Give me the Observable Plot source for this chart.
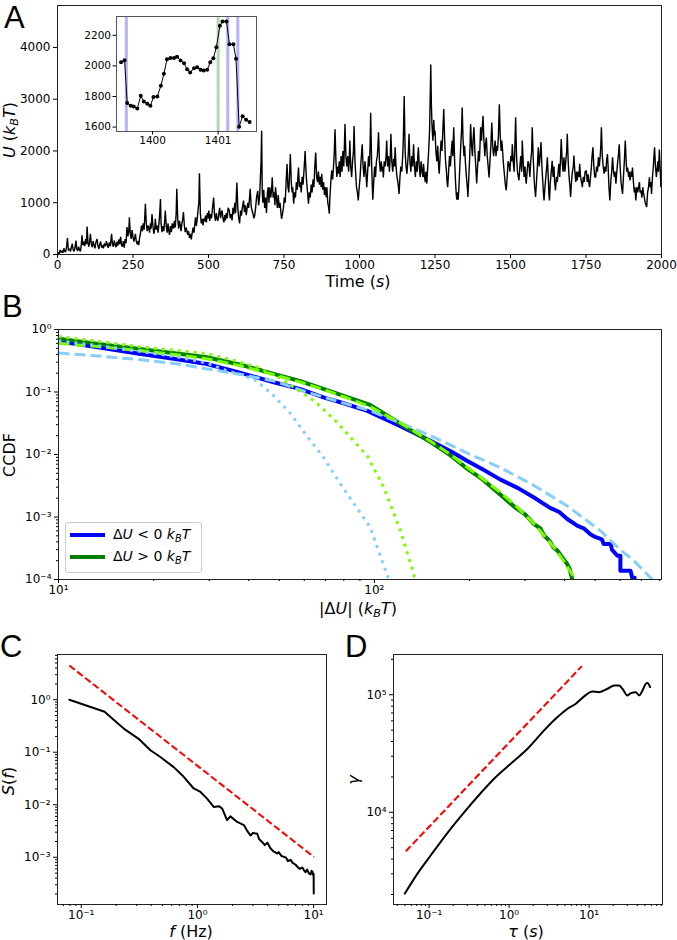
<!DOCTYPE html>
<html><head><meta charset="utf-8">
<script src="https://cdn.jsdelivr.net/npm/d3@7"></script>
<script src="https://cdn.jsdelivr.net/npm/@observablehq/plot@0.6"></script>
<style>
body{margin:0;background:#fff;}
#fig{position:relative;width:677px;height:940px;overflow:hidden;background:#fff;font-family:"DejaVu Sans",sans-serif;}
#fig svg{position:absolute;}
.lab{position:absolute;white-space:nowrap;color:#000;font-family:"DejaVu Sans";font-size:16px;line-height:1;}
.sub{font-size:70%;position:relative;top:0.3em;}
.letter{position:absolute;font-family:"Liberation Sans",Arial,sans-serif;font-size:31px;line-height:1;color:#000;}
.legend{position:absolute;border:1px solid #ccc;border-radius:3px;background:rgba(255,255,255,0.85);box-sizing:border-box;}
.legrow{position:absolute;left:0;font-family:"DejaVu Sans";font-size:14px;line-height:1;white-space:nowrap;}
</style></head><body><div id="fig"></div><script>
// ---------- DATA ----------
// Panel A: U(t) time series [t (s), U (kBT)]
const timeSeries = [[0,10],[3,40],[6,20],[9,90],[12,40],[15,70],[18,30],[21,120],[24,60],[27,50],[30,150],[33,320],[36,80],[40,110],[43,60],[46,140],[49,210],[52,90],[55,60],[58,130],[61,270],[64,100],[67,70],[70,150],[73,90],[76,60],[79,200],[81,370],[84,180],[87,250],[90,160],[93,300],[96,200],[98,540],[101,220],[104,150],[107,280],[109,400],[112,200],[115,140],[118,260],[121,180],[124,120],[127,230],[131,300],[134,160],[137,110],[140,200],[143,250],[146,130],[149,180],[152,120],[155,210],[159,160],[162,260],[165,180],[168,130],[171,230],[175,160],[179,400],[182,200],[185,150],[188,270],[191,190],[194,140],[197,250],[200,170],[203,290],[206,200],[209,340],[212,180],[215,150],[218,260],[221,130],[224,300],[227,220],[230,530],[233,350],[236,450],[238,720],[241,400],[244,300],[247,470],[250,340],[253,250],[256,330],[258,400],[261,250],[264,200],[267,260],[269,180],[272,330],[275,420],[278,560],[281,450],[284,600],[287,480],[291,980],[294,600],[297,450],[300,560],[302,530],[305,420],[308,600],[310,500],[313,780],[316,550],[319,400],[322,500],[324,690],[327,480],[330,560],[333,420],[336,600],[338,750],[341,1070],[343,600],[346,430],[349,550],[352,450],[355,650],[357,850],[360,550],[363,420],[366,600],[368,470],[371,380],[374,550],[377,430],[380,600],[384,500],[387,650],[390,520],[393,800],[395,1270],[398,700],[401,500],[404,650],[406,590],[409,450],[412,600],[415,700],[417,820],[420,560],[423,430],[426,520],[428,470],[431,380],[434,450],[437,320],[440,400],[443,290],[446,420],[449,520],[452,420],[455,600],[457,720],[460,550],[463,700],[466,900],[468,1000],[470,1570],[473,800],[476,600],[479,690],[482,560],[485,700],[488,640],[490,750],[493,620],[496,800],[499,700],[501,850],[504,650],[507,780],[510,700],[513,880],[517,1100],[520,760],[523,650],[526,800],[528,700],[531,650],[534,780],[537,900],[540,700],[543,820],[545,850],[548,700],[551,620],[554,760],[556,660],[559,800],[562,700],[565,900],[569,850],[572,700],[575,780],[578,660],[581,900],[584,780],[587,1000],[590,800],[592,1100],[594,1390],[597,900],[600,700],[603,600],[606,850],[609,750],[612,900],[616,1040],[619,820],[622,950],[625,760],[627,850],[630,1000],[633,900],[636,1100],[638,1270],[641,950],[644,850],[647,800],[650,700],[653,750],[656,900],[659,1100],[663,1230],[666,950],[669,1100],[672,1500],[674,1800],[676,2390],[678,1200],[680,1000],[683,1250],[686,900],[689,1100],[692,800],[695,1200],[698,1300],[700,1000],[703,1300],[706,1100],[709,1250],[711,1490],[714,1100],[717,1200],[720,950],[722,1300],[725,1100],[728,900],[731,1150],[734,900],[737,1000],[740,800],[742,690],[745,780],[748,900],[751,1100],[754,1000],[757,1400],[760,1750],[763,1300],[766,1200],[768,1500],[771,1940],[774,1400],[777,1200],[779,1300],[782,980],[785,1200],[788,1100],[791,1400],[794,1250],[796,1500],[798,1680],[801,1300],[804,1400],[807,1200],[810,1500],[813,1350],[816,1600],[818,1800],[820,2000],[822,1700],[825,1400],[828,1200],[831,980],[834,1200],[837,1100],[840,1350],[843,1200],[846,1450],[849,1300],[852,1700],[855,1970],[858,1500],[861,1400],[864,1600],[867,1350],[870,1500],[873,1300],[875,1560],[878,1250],[881,1400],[884,1150],[887,1300],[890,1100],[892,1300],[895,1000],[898,900],[900,790],[902,1100],[905,1400],[908,1620],[911,1450],[914,1700],[916,1900],[919,2420],[922,1800],[925,1500],[928,1700],[930,1560],[933,1800],[936,1500],[939,1900],[942,1600],[945,2000],[948,1700],[950,2100],[952,2520],[955,1900],[958,1700],[961,1900],[964,1600],[966,1800],[968,2200],[971,1700],[974,1500],[977,1800],[980,2000],[982,2480],[985,1800],[988,1500],[990,1300],[993,1200],[996,1045],[999,1300],[1002,1500],[1005,1800],[1009,2130],[1012,1700],[1015,1500],[1018,1800],[1021,1600],[1024,1300],[1027,1600],[1030,1900],[1033,1700],[1035,2100],[1037,2740],[1040,1800],[1042,1400],[1044,1060],[1047,1400],[1050,1700],[1053,1500],[1056,1800],[1059,1900],[1061,2100],[1063,2360],[1066,1800],[1069,1600],[1072,1800],[1075,1600],[1077,1700],[1079,1490],[1082,1800],[1085,1700],[1088,1900],[1090,2200],[1093,1700],[1096,1900],[1099,1600],[1102,1900],[1104,2330],[1107,1800],[1110,1600],[1113,1850],[1116,1700],[1118,2070],[1121,1700],[1124,1500],[1127,1400],[1129,1300],[1131,1170],[1134,1500],[1137,1700],[1140,1600],[1143,1900],[1145,2200],[1148,3060],[1151,2000],[1154,1700],[1157,1560],[1160,1800],[1162,2000],[1164,2330],[1167,1800],[1170,1600],[1173,1900],[1176,1700],[1179,2130],[1182,1700],[1185,1500],[1188,1800],[1191,1600],[1193,1900],[1195,2070],[1198,1700],[1201,1500],[1204,1800],[1207,1600],[1210,1500],[1212,1750],[1215,1500],[1218,1400],[1220,1600],[1223,1370],[1226,1700],[1229,2000],[1232,2400],[1234,3000],[1236,3670],[1238,2900],[1240,2500],[1243,2200],[1246,2600],[1248,2300],[1250,2390],[1253,2000],[1256,1800],[1259,2100],[1262,1700],[1264,1560],[1267,1900],[1270,2200],[1273,2000],[1276,2400],[1279,2810],[1282,2200],[1285,1800],[1288,1600],[1290,1400],[1292,1300],[1295,1600],[1298,1900],[1301,1700],[1304,2000],[1307,2200],[1309,1900],[1312,2460],[1315,1800],[1318,1400],[1320,1200],[1322,1060],[1325,1200],[1327,1060],[1330,1400],[1333,1800],[1336,2200],[1338,2400],[1340,2840],[1343,2200],[1346,1900],[1348,2100],[1351,1750],[1354,1500],[1357,1300],[1359,1110],[1362,1500],[1365,1900],[1368,2520],[1371,2100],[1374,1900],[1376,2200],[1379,2460],[1382,2000],[1385,1700],[1388,1370],[1391,1700],[1394,2000],[1397,1800],[1399,2100],[1401,2460],[1404,2200],[1406,2400],[1409,2680],[1412,2200],[1415,1900],[1417,2100],[1420,2260],[1423,1900],[1426,1700],[1429,1490],[1432,1800],[1435,2100],[1438,2550],[1441,2100],[1444,1900],[1446,2000],[1449,2200],[1452,1900],[1455,2100],[1457,2000],[1460,2300],[1463,2900],[1466,2300],[1469,2000],[1471,2200],[1473,2070],[1476,1800],[1479,1600],[1482,1400],[1484,1300],[1486,1240],[1489,1500],[1492,1800],[1495,1750],[1498,1600],[1501,1900],[1504,1800],[1506,2130],[1509,1800],[1512,1600],[1514,2000],[1517,2650],[1520,1900],[1523,1600],[1526,1500],[1528,1430],[1531,1700],[1534,1900],[1537,1600],[1539,2200],[1542,1800],[1545,1500],[1548,1700],[1550,1500],[1552,1370],[1555,1600],[1558,1800],[1561,1750],[1564,1500],[1567,1800],[1570,2000],[1572,2460],[1575,1900],[1578,1500],[1580,1300],[1583,1110],[1586,1400],[1589,1700],[1592,2070],[1595,1700],[1598,1900],[1601,2170],[1604,1700],[1607,1400],[1609,1200],[1611,1045],[1614,1300],[1617,1500],[1620,1700],[1622,1880],[1625,1500],[1627,1200],[1629,1045],[1632,1400],[1635,1600],[1638,1810],[1641,1500],[1644,1700],[1646,1400],[1649,1240],[1652,1500],[1655,1400],[1658,1600],[1660,1750],[1663,1500],[1666,1900],[1668,2230],[1671,1800],[1674,1600],[1677,1880],[1680,1600],[1683,1800],[1686,2000],[1688,2330],[1691,1800],[1694,1500],[1697,1300],[1699,1110],[1702,1400],[1705,1600],[1708,1700],[1710,1910],[1713,1600],[1716,1400],[1719,1600],[1721,1430],[1724,1600],[1727,1500],[1729,1750],[1732,1500],[1735,1400],[1738,1300],[1741,1500],[1744,1400],[1747,1600],[1751,1620],[1754,1400],[1757,1550],[1760,1350],[1762,1300],[1765,1500],[1768,1700],[1770,1900],[1773,2070],[1776,1700],[1779,1500],[1782,1490],[1785,1700],[1788,1600],[1791,1880],[1794,1700],[1797,1900],[1799,2100],[1801,2460],[1804,1900],[1807,1700],[1810,1560],[1813,1700],[1816,1600],[1818,1800],[1821,1940],[1824,1600],[1826,1300],[1829,1045],[1832,1400],[1835,1600],[1838,1880],[1841,1600],[1844,1500],[1846,1600],[1849,1370],[1852,1600],[1855,1800],[1857,1900],[1860,2130],[1863,1700],[1866,1400],[1868,1300],[1871,1170],[1874,1500],[1877,1800],[1880,2200],[1883,1800],[1885,1600],[1888,1680],[1891,1500],[1893,1600],[1896,1430],[1899,1600],[1901,1500],[1904,1680],[1907,1400],[1910,1200],[1912,1300],[1915,1045],[1918,1300],[1921,1200],[1924,1300],[1927,1400],[1929,1200],[1932,1240],[1935,1100],[1938,1300],[1940,1200],[1943,1110],[1946,1000],[1949,950],[1951,920],[1954,1200],[1957,1300],[1960,1490],[1962,1300],[1965,1400],[1967,1170],[1970,1500],[1973,1700],[1975,1900],[1977,2070],[1980,1700],[1983,1500],[1985,1620],[1988,1800],[1990,1600],[1993,2030],[1996,1600],[1998,1300],[2000,1370]];
const timeTicks = [0,250,500,750,1000,1250,1500,1750,2000];
const uTicks = [0,1000,2000,3000,4000];

// Panel A inset
const insetPts = [[1399.52,2024],[1399.573,2037],[1399.613,1757],[1399.667,1739],[1399.713,1735],[1399.767,1722],[1399.82,1804],[1399.867,1767],[1399.92,1752],[1399.967,1739],[1400.013,1796],[1400.073,1800],[1400.127,1870],[1400.173,1948],[1400.22,2043],[1400.273,2052],[1400.327,2052],[1400.373,2059],[1400.427,2035],[1400.48,2017],[1400.527,1978],[1400.573,1957],[1400.633,1985],[1400.68,1991],[1400.733,1974],[1400.78,1970],[1400.833,1974],[1400.88,2024],[1400.927,2050],[1400.973,2122],[1401.027,2263],[1401.067,2291],[1401.127,2291],[1401.173,2141],[1401.233,2141],[1401.273,2046],[1401.32,1602],[1401.373,1670],[1401.427,1648],[1401.48,1633]];
const bandsBlue = [1399.6, 1401.147, 1401.3];
const bandsGreen = [1401.0];
const insetXTicks = [1400, 1401];
const insetYTicks = [1600, 1800, 2000, 2200];

// Panel B: CCDF of |dU|
const negData = [[10,0.65],[13,0.53],[18,0.41],[24,0.33],[29.5,0.28],[38,0.2],[48,0.143],[58,0.112],[69,0.082],[80,0.066],[95,0.05],[120,0.029],[150,0.0167],[175,0.0112],[197,0.0079],[220,0.0058],[250,0.004],[285,0.0029],[320,0.00205],[360,0.0014],[385,0.0012],[408,0.00093],[440,0.00072],[460,0.00066],[483,0.00053],[500,0.00048],[525,0.00044],[532,0.00037],[560,0.00037],[565,0.0003],[588,0.00024],[601,0.00024],[601,0.000138],[647,0.000138],[655,0.000107],[667,0.000107]];
const posData = [[10,0.71],[13,0.6],[18,0.49],[24,0.41],[29.5,0.36],[38,0.27],[48,0.195],[58,0.15],[69,0.112],[80,0.087],[97,0.062],[121,0.031],[154,0.0147],[175,0.0095],[197,0.0059],[220,0.004],[250,0.0023],[280,0.0014],[300,0.0011],[320,0.00077],[335,0.00066],[345,0.0005],[358,0.00042],[370,0.00032],[380,0.00029],[390,0.00024],[408,0.000176],[415,0.00015],[423,0.0001]];
const fitNegDashed = [[10,0.42],[13,0.38],[18,0.33],[24,0.28],[29.5,0.234],[38,0.19],[48,0.15],[61,0.1],[75,0.073],[97,0.05],[121,0.032],[154,0.019],[197,0.0105],[250,0.0062],[320,0.0032],[408,0.0015],[520,0.0006],[600,0.0003],[663,0.0002],[758,0.0001]];
const fitPosDashed = [[10,0.6],[13,0.54],[18,0.46],[24,0.39],[29.5,0.34],[38,0.26],[48,0.19],[58,0.145],[69,0.11],[80,0.084],[97,0.058],[121,0.032],[154,0.0152],[175,0.0098],[197,0.0062],[220,0.0041],[250,0.0025],[285,0.0014],[320,0.00078],[345,0.0005],[370,0.00033],[400,0.00019],[433,0.0001]];
const fitNegDotted = [[10,0.66],[13,0.56],[18,0.45],[24,0.36],[29.5,0.29],[34,0.22],[38,0.19],[42.5,0.15],[48,0.087],[54.3,0.045],[61,0.02],[69,0.009],[78,0.0034],[88,0.0014],[97,0.00068],[110,0.000115],[111,0.0001]];
const fitPosDotted = [[10,0.77],[13,0.66],[18,0.53],[24,0.46],[29.5,0.41],[36,0.32],[42.5,0.25],[50,0.17],[55.5,0.12],[65,0.07],[76,0.033],[86.5,0.016],[95,0.0095],[107,0.003],[121,0.0006],[134,0.00011],[136,0.0001]];
const bXTicks = [10, 100];
const bYTicks = [1e-4, 1e-3, 1e-2, 1e-1, 1];
const legendLabels = ['Δ<i>U</i> &lt; 0 <i>k</i><span class="sub"><i>B</i></span><i>T</i>', 'Δ<i>U</i> &gt; 0 <i>k</i><span class="sub"><i>B</i></span><i>T</i>'];
const legendColors = ["#0000ff", "#008000"];

// Panel C: power spectrum S(f)
const spectrum = [[0.079,1.0],[0.159,0.59],[0.19,0.417],[0.239,0.269],[0.312,0.18],[0.394,0.109],[0.48,0.081],[0.625,0.052],[0.762,0.034],[0.929,0.0204],[1.062,0.0175],[1.21,0.0131],[1.38,0.0091],[1.53,0.0094],[1.63,0.0085],[1.8,0.0051],[1.92,0.006],[2.2,0.0047],[2.51,0.0041],[2.7,0.0031],[2.86,0.0026],[3.0,0.0029],[3.27,0.0028],[3.4,0.0022],[3.61,0.00195],[3.8,0.0017],[4.0,0.0019],[4.26,0.00147],[4.5,0.0013],[4.86,0.00118],[5.0,0.00125],[5.3,0.00105],[5.55,0.00102],[5.8,0.00098],[6.0,0.00085],[6.34,0.00089],[6.6,0.00078],[7.0,0.00072],[7.24,0.00066],[7.6,0.0006],[8.0,0.00064],[8.24,0.00057],[8.5,0.00052],[8.8,0.00058],[9.12,0.00049],[9.4,0.00047],[9.6,0.00055],[9.77,0.00053],[9.9,0.00046],[10.0,0.00048],[10.02,0.000204]];
const spectrumFit = [[0.079,4.49],[10.07,0.00101]];
const cXTicks = [0.1, 1, 10];
const cYTicks = [1e-3, 1e-2, 1e-1, 1];

// Panel D: gamma(tau)
const gammaData = [[0.0497,2037],[0.0716,3013],[0.105,4315],[0.17,6700],[0.274,10000],[0.443,14600],[0.649,19330],[1.05,25930],[1.7,34770],[2.74,49730],[4.03,64560],[5.37,76060],[6.82,83900],[8.66,96800],[11.0,106600],[13.3,105200],[17.0,112500],[20.5,119900],[23.7,119900],[26.1,112500],[30.2,98700],[33.2,103200],[38.4,105200],[42.2,98700],[46.5,108800],[51.2,124000],[53.7,125600],[57.9,116000]];
const gammaFit = [[0.0512,4665],[8.11,175000]];
const dXTicks = [0.1, 1, 10];
const dYTicks = [1e4, 1e5];

// ---------- HELPERS ----------
const fig = document.getElementById("fig");
const supMap = {"-":"⁻","0":"⁰","1":"¹","2":"²","3":"³","4":"⁴","5":"⁵"};
const pow10 = v => "10" + String(Math.round(Math.log10(v))).split("").map(c => supMap[c]).join("");
function minors(lo, hi, dom) {
  const out = [];
  for (let e = lo; e < hi; e++) for (let m = 2; m <= 9; m++) {
    const v = +(m * Math.pow(10, e)).toPrecision(6);
    if (v >= dom[0] && v <= dom[1]) out.push(v);
  }
  return out;
}
function put(svg, left, top) { svg.style.left = left + "px"; svg.style.top = top + "px"; fig.appendChild(svg); }
function label(html, x, y, rot, cls = "lab") {
  const d = document.createElement("div");
  d.className = cls; d.innerHTML = html;
  d.style.left = x + "px"; d.style.top = y + "px";
  d.style.transform = "translate(-50%,-50%)" + (rot ? " rotate(-90deg)" : "");
  fig.appendChild(d);
}
function letter(t, x, y) {
  const d = document.createElement("div");
  d.className = "letter"; d.textContent = t;
  d.style.left = x + "px"; d.style.top = y + "px";
  fig.appendChild(d);
}
const style = {fontFamily: "DejaVu Sans", fontSize: "12px", background: "transparent", overflow: "visible", color: "#000"};
const X = d => d[0], Y = d => d[1];
const majorX = (t, fmt, fs = 12) => Plot.axisX(t, {anchor: "bottom", tickSize: 4, tickPadding: 2, tickFormat: fmt, label: null, fontSize: fs});
const majorY = (t, fmt, fs = 12) => Plot.axisY(t, {anchor: "left", tickSize: 4, tickPadding: 3, tickFormat: fmt, label: null, fontSize: fs});
const minorX = t => Plot.axisX(t, {anchor: "bottom", tickSize: 2, tickFormat: () => "", label: null});
const minorY = t => Plot.axisY(t, {anchor: "left", tickSize: 2, tickFormat: () => "", label: null});
const dashed = {strokeWidth: 3, strokeDasharray: "11,5", strokeLinecap: "butt", clip: true};
const dotted = {strokeWidth: 3, strokeDasharray: "3,5", strokeLinecap: "butt", clip: true};

// ---------- PANEL A ----------
put(Plot.plot({
  width: 677, height: 292, marginLeft: 57, marginRight: 16, marginTop: 5, marginBottom: 38, style,
  x: {domain: [0, 2000]}, y: {domain: [0, 4810]},
  marks: [
    Plot.line(timeSeries, {x: X, y: Y, stroke: "black", strokeWidth: 1.4, strokeLinejoin: "miter"}),
    Plot.frame({stroke: "#222"}),
    majorX(timeTicks, d => String(d)),
    majorY(uTicks, d => String(d))
  ]
}), 0, 0);

// inset
put(Plot.plot({
  width: 190, height: 140, marginLeft: 40, marginRight: 10, marginTop: 6, marginBottom: 19,
  style: {...style, fontSize: "10.5px"},
  x: {domain: [1399.45, 1401.585]}, y: {domain: [1571, 2323]},
  marks: [
    Plot.frame({fill: "white", stroke: "none"}),
    Plot.ruleX(bandsBlue, {stroke: "#0000ff", strokeOpacity: 0.3, strokeWidth: 3}),
    Plot.ruleX(bandsGreen, {stroke: "#008000", strokeOpacity: 0.3, strokeWidth: 3}),
    Plot.line(insetPts, {x: X, y: Y, stroke: "black", strokeWidth: 1}),
    Plot.dot(insetPts, {x: X, y: Y, r: 2, fill: "black", stroke: "none"}),
    Plot.frame({stroke: "#555"}),
    Plot.axisX(insetXTicks, {anchor: "bottom", tickSize: 3.5, tickPadding: 2, tickFormat: d => String(d), label: null, fontSize: 10.5}),
    Plot.axisY(insetYTicks, {anchor: "left", tickSize: 3.5, tickPadding: 2, tickFormat: d => String(d), label: null, fontSize: 10.5})
  ]
}), 76, 10);

// ---------- PANEL B ----------
const bXDom = [10, 811], bYDom = [1e-4, 1];
put(Plot.plot({
  width: 677, height: 310, marginLeft: 58, marginRight: 16, marginTop: 29, marginBottom: 31, style,
  x: {type: "log", domain: bXDom}, y: {type: "log", domain: bYDom},
  marks: [
    Plot.line(negData, {x: X, y: Y, stroke: "#0000ff", strokeWidth: 4, clip: true}),
    Plot.line(posData, {x: X, y: Y, stroke: "#008000", strokeWidth: 4, clip: true}),
    Plot.line(fitNegDashed, {x: X, y: Y, stroke: "#87cefa", ...dashed}),
    Plot.line(fitPosDashed, {x: X, y: Y, stroke: "#7cfc00", ...dashed}),
    Plot.line(fitNegDotted, {x: X, y: Y, stroke: "#87cefa", ...dotted}),
    Plot.line(fitPosDotted, {x: X, y: Y, stroke: "#7cfc00", ...dotted}),
    Plot.frame({stroke: "#222"}),
    minorX(minors(1, 3, bXDom)),
    minorY(minors(-4, 0, bYDom)),
    majorX(bXTicks, pow10),
    majorY(bYTicks, pow10)
  ]
}), 0, 300);

// legend
const leg = document.createElement("div");
leg.className = "legend";
leg.style.left = "65px"; leg.style.top = "522px"; leg.style.width = "137px"; leg.style.height = "51px";
legendLabels.forEach((lab, i) => {
  const sw = document.createElement("div");
  sw.style.cssText = `position:absolute;left:4px;top:${10 + i * 22}px;width:35px;height:4px;background:${legendColors[i]};`;
  leg.appendChild(sw);
  const t = document.createElement("div");
  t.className = "legrow"; t.innerHTML = lab;
  t.style.left = "47px"; t.style.top = (4 + i * 22) + "px";
  leg.appendChild(t);
});
fig.appendChild(leg);

// ---------- PANEL C ----------
const cXDom = [0.0625, 12.9], cYDom = [1.26e-4, 7.26];
put(Plot.plot({
  width: 340, height: 300, marginLeft: 57, marginRight: 14, marginTop: 24, marginBottom: 26, style,
  x: {type: "log", domain: cXDom}, y: {type: "log", domain: cYDom},
  marks: [
    Plot.line(spectrumFit, {x: X, y: Y, stroke: "#ff0000", strokeWidth: 2, strokeDasharray: "7,3", strokeLinecap: "butt"}),
    Plot.line(spectrum, {x: X, y: Y, stroke: "black", strokeWidth: 2}),
    Plot.frame({stroke: "#222"}),
    minorX(minors(-2, 2, cXDom)),
    minorY(minors(-4, 1, cYDom)),
    majorX(cXTicks, pow10),
    majorY(cYTicks, pow10)
  ]
}), 0, 630);

// ---------- PANEL D ----------
const dXDom = [0.0359, 82.7], dYDom = [1644, 2.2e5];
put(Plot.plot({
  width: 337, height: 300, marginLeft: 53, marginRight: 15, marginTop: 24, marginBottom: 26, style,
  x: {type: "log", domain: dXDom}, y: {type: "log", domain: dYDom},
  marks: [
    Plot.line(gammaFit, {x: X, y: Y, stroke: "#ff0000", strokeWidth: 2, strokeDasharray: "7,3", strokeLinecap: "butt"}),
    Plot.line(gammaData, {x: X, y: Y, stroke: "black", strokeWidth: 2, curve: "monotone-x"}),
    Plot.frame({stroke: "#222"}),
    minorX(minors(-2, 2, dXDom)),
    minorY(minors(3, 6, dYDom)),
    majorX(dXTicks, pow10),
    majorY(dYTicks, pow10)
  ]
}), 340, 630);

// ---------- LABELS ----------
label('<i>U</i> (<i>k</i><span class="sub"><i>B</i></span><i>T</i>)', 10, 130, true);
label('Time (<i>s</i>)', 358, 282, false);
label('CCDF', 10, 455, true);
label('|Δ<i>U</i>| (<i>k</i><span class="sub"><i>B</i></span><i>T</i>)', 358, 609, false);
label('<i>S</i>(<i>f</i>)', 9, 781, true);
label('<i>f</i> (Hz)', 191, 932, false);
label('<i>γ</i>', 354, 780, true);
label('<i>τ</i> (<i>s</i>)', 526, 932, false);
letter("A", 4, 2);
letter("B", 2, 291);
letter("C", 0, 631);
letter("D", 345, 631);
</script></body></html>
